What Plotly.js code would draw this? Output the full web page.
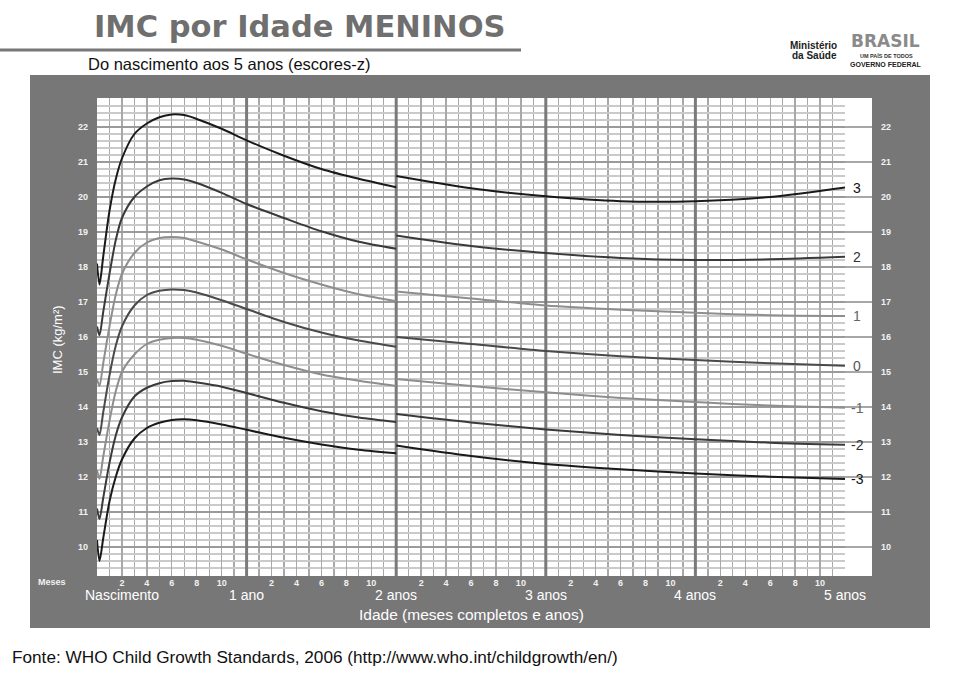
<!DOCTYPE html>
<html>
<head>
<meta charset="utf-8">
<script src="https://cdn.plot.ly/plotly-3.0.1.min.js"></script>
<style>html,body{margin:0;padding:0;background:#fff;}#chart{width:964px;height:674px;}</style>
</head>
<body>
<div id="chart"></div>
<script>
// ---- data (z-score curves of BMI-for-age, boys) ----
const zLabels = ['-3', '-2', '-1', '0', '1', '2', '3'];
const monthsA = [0, 0.2, 0.5, 1, 1.5, 2, 3, 4, 5, 6, 7, 8, 10, 12, 15, 18, 21, 24];
const m3A = [10.2, 9.6, 10.25, 11.3, 12.0, 12.5, 13.1, 13.4, 13.55, 13.63, 13.65, 13.62, 13.5, 13.35, 13.12, 12.93, 12.78, 12.68];
const m2A = [11.1, 10.8, 11.4, 12.4, 13.18, 13.7, 14.3, 14.55, 14.68, 14.74, 14.75, 14.7, 14.58, 14.4, 14.12, 13.88, 13.7, 13.57];
const m1A = [12.2, 11.95, 12.58, 13.6, 14.44, 15.0, 15.5, 15.8, 15.92, 15.97, 15.97, 15.92, 15.75, 15.52, 15.2, 14.93, 14.75, 14.6];
const z0A = [13.4, 13.2, 13.85, 14.9, 15.74, 16.3, 16.9, 17.2, 17.32, 17.36, 17.34, 17.27, 17.05, 16.8, 16.43, 16.13, 15.9, 15.72];
const p1A = [14.8, 14.6, 15.25, 16.3, 17.2, 17.8, 18.4, 18.7, 18.83, 18.86, 18.83, 18.73, 18.5, 18.22, 17.83, 17.5, 17.22, 17.02];
const p2A = [16.3, 16.05, 16.72, 17.8, 18.76, 19.4, 20.0, 20.3, 20.48, 20.53, 20.5, 20.4, 20.12, 19.8, 19.4, 19.02, 18.72, 18.52];
const p3A = [18.1, 17.5, 18.3, 19.6, 20.5, 21.1, 21.8, 22.1, 22.28, 22.36, 22.34, 22.23, 21.95, 21.62, 21.18, 20.8, 20.52, 20.28];

const monthsB = [24, 30, 36, 42, 48, 54, 60];
const m3B = [12.9, 12.6, 12.37, 12.22, 12.1, 12.01, 11.94];
const m2B = [13.8, 13.56, 13.36, 13.2, 13.08, 12.98, 12.92];
const m1B = [14.8, 14.6, 14.42, 14.26, 14.14, 14.04, 13.98];
const z0B = [16.0, 15.8, 15.6, 15.45, 15.34, 15.25, 15.18];
const p1B = [17.3, 17.1, 16.9, 16.78, 16.69, 16.62, 16.6];
const p2B = [18.9, 18.6, 18.4, 18.26, 18.2, 18.22, 18.29];
const p3B = [20.6, 20.25, 20.02, 19.88, 19.88, 20.0, 20.27];

const yTicks = [10, 11, 12, 13, 14, 15, 16, 17, 18, 19, 20, 21, 22];
const monthTickNums = [2, 4, 6, 8, 10];
const yearNums = [0, 1, 2, 3, 4];
const yearLabels = ['Nascimento', '1 ano', '2 anos', '3 anos', '4 anos', '5 anos'];
const yearLabelMonths = [2, 12, 24, 36, 48, 60];
const yearLines = [12, 24, 36, 48];

// ---- styling ----
const FONT = 'Liberation Sans, Arial, sans-serif';
const lineColors = ['#1a1a1a', '#3a3a3a', '#8e8e8e', '#4a4a4a', '#8e8e8e', '#3a3a3a', '#1a1a1a'];
const labelColors = ['#111', '#333', '#666', '#555', '#666', '#333', '#111'];
const segA = [m3A, m2A, m1A, z0A, p1A, p2A, p3A];
const segB = [m3B, m2B, m1B, z0B, p1B, p2B, p3B];

// pixel geometry helpers (plot area 97..845 x, 98..576 y)
const PL = 97, PR = 845, PT = 98, PB = 576;
const px = v => (v - PL) / (PR - PL);
const py = v => (PB - v) / (PB - PT);

const yRange = [10 - (PB - 547) / 35, 22 + (127 - PT) / 35];

const traces = [];
// dummy trace for right axis
traces.push({x: [30], y: [15], yaxis: 'y2', mode: 'markers', marker: {opacity: 0}, hoverinfo: 'skip', showlegend: false});
// year divider lines (drawn above grid, below curves)
const ylX = [], ylY = [];
yearLines.forEach(m => { ylX.push(m, m, null); ylY.push(yRange[0], yRange[1], null); });
traces.push({x: ylX, y: ylY, mode: 'lines', line: {color: '#7a7a7a', width: 3}, hoverinfo: 'skip', showlegend: false, cliponaxis: true});
zLabels.forEach((z, i) => {
  traces.push({x: monthsA, y: segA[i], mode: 'lines', line: {color: lineColors[i], width: 2, shape: 'spline', smoothing: 0.8}, hoverinfo: 'skip', showlegend: false});
  traces.push({x: monthsB, y: segB[i], mode: 'lines', line: {color: lineColors[i], width: 2, shape: 'spline', smoothing: 0.8}, hoverinfo: 'skip', showlegend: false});
});

const xTickVals = [], xTickText = [];
yearNums.forEach(yr => monthTickNums.forEach(m => { xTickVals.push(yr * 12 + m); xTickText.push(String(m)); }));

const shapes = [
  // gray frame
  {type: 'rect', xref: 'paper', yref: 'paper', x0: px(30), x1: px(930), y0: py(628), y1: py(75), fillcolor: '#777777', line: {width: 0}, layer: 'below'},
  // white plotting area + label strip
  {type: 'rect', xref: 'paper', yref: 'paper', x0: px(97), x1: px(872), y0: py(576), y1: py(98), fillcolor: '#ffffff', line: {width: 0}, layer: 'below'},
  // title underline
  {type: 'line', xref: 'paper', yref: 'paper', x0: px(0), x1: px(521), y0: py(50), y1: py(50), line: {color: '#777', width: 3}},
];
// integer lines across the right white strip
yTicks.forEach(v => shapes.push({type: 'line', xref: 'paper', yref: 'y', x0: 1, x1: px(872), y0: v, y1: v, line: {color: '#8a8a8a', width: 1.5}, layer: 'below'}));

const annotations = [
  {text: '<b>IMC por Idade MENINOS</b>', xref: 'paper', yref: 'paper', x: px(92), y: py(26), xanchor: 'left', yanchor: 'middle', showarrow: false, font: {family: 'DejaVu Sans, sans-serif', size: 30.5, color: '#6f6f6f'}},
  {text: 'Do nascimento aos 5 anos (escores-z)', xref: 'paper', yref: 'paper', x: px(86), y: py(64), xanchor: 'left', yanchor: 'middle', showarrow: false, font: {family: FONT, size: 16.5, color: '#111'}},
  {text: 'Fonte: WHO Child Growth Standards, 2006 (http://www.who.int/childgrowth/en/)', xref: 'paper', yref: 'paper', x: px(10), y: py(657), xanchor: 'left', yanchor: 'middle', showarrow: false, font: {family: FONT, size: 17.2, color: '#111'}},
  {text: '<b>Ministério</b>', xref: 'paper', yref: 'paper', x: px(838), y: py(45), xanchor: 'right', yanchor: 'middle', showarrow: false, borderpad: 0, font: {family: FONT, size: 10, color: '#222'}},
  {text: '<b>da Saúde</b>', xref: 'paper', yref: 'paper', x: px(838), y: py(55), xanchor: 'right', yanchor: 'middle', showarrow: false, borderpad: 0, font: {family: FONT, size: 10, color: '#222'}},
  {text: '<b>BRASIL</b>', xref: 'paper', yref: 'paper', x: px(885), y: py(41), xanchor: 'center', yanchor: 'middle', showarrow: false, borderpad: 0, font: {family: 'DejaVu Sans, sans-serif', size: 17, color: '#8a8a8a'}},
  {text: '<b>UM PAÍS DE TODOS</b>', xref: 'paper', yref: 'paper', x: px(886), y: py(55.5), xanchor: 'center', yanchor: 'middle', showarrow: false, borderpad: 0, font: {family: FONT, size: 5.5, color: '#333'}},
  {text: '<b>GOVERNO FEDERAL</b>', xref: 'paper', yref: 'paper', x: px(886), y: py(64), xanchor: 'center', yanchor: 'middle', showarrow: false, borderpad: 0, font: {family: FONT, size: 7, color: '#222'}},
  {text: 'IMC (kg/m²)', xref: 'paper', yref: 'paper', x: px(57), y: py(340), xanchor: 'center', yanchor: 'middle', textangle: -90, showarrow: false, font: {family: FONT, size: 13, color: '#fff'}},
  {text: 'Idade (meses completos e anos)', xref: 'paper', yref: 'paper', x: px(471), y: py(614), xanchor: 'center', yanchor: 'middle', showarrow: false, font: {family: FONT, size: 15.5, color: '#fff'}},
  {text: '<b>Meses</b>', xref: 'paper', yref: 'paper', x: px(52), y: py(582), xanchor: 'center', yanchor: 'middle', showarrow: false, font: {family: FONT, size: 9, color: '#f2f2f2'}},
];
yearLabels.forEach((t, i) => annotations.push({text: t, xref: 'x', yref: 'paper', x: yearLabelMonths[i], y: py(595), xanchor: 'center', yanchor: 'middle', showarrow: false, font: {family: FONT, size: 14, color: '#fff'}}));
zLabels.forEach((z, i) => {
  const ys = segB[i];
  annotations.push({text: z, xref: 'paper', yref: 'y', x: px(857), y: ys[ys.length - 1], xanchor: 'center', yanchor: 'middle', showarrow: false, font: {family: FONT, size: 14, color: labelColors[i]}});
});

const layout = {
  width: 964, height: 674,
  margin: {l: PL, r: 964 - PR, t: PT, b: 674 - PB, pad: 0},
  paper_bgcolor: '#ffffff', plot_bgcolor: 'rgba(0,0,0,0)',
  showlegend: false,
  font: {family: FONT},
  xaxis: {
    range: [0, 60], tickmode: 'array', tickvals: xTickVals, ticktext: xTickText,
    ticks: '', ticklabelstandoff: 0,
    tickfont: {family: FONT, size: 9, color: '#f2f2f2', weight: 'bold'},
    showgrid: true, gridcolor: '#a8a8a8', gridwidth: 1.3,
    minor: {tickmode: 'linear', tick0: 0, dtick: 1, showgrid: true, gridcolor: '#a8a8a8', gridwidth: 1.3},
    zeroline: false, showline: false, fixedrange: true
  },
  yaxis: {
    range: yRange, tickmode: 'array', tickvals: yTicks, ticktext: yTicks.map(String),
    ticks: '', ticklabelstandoff: 8,
    tickfont: {family: FONT, size: 9, color: '#f2f2f2', weight: 'bold'},
    showgrid: true, gridcolor: '#9a9a9a', gridwidth: 1.6,
    minor: {tickmode: 'linear', tick0: 0, dtick: 0.2, showgrid: true, gridcolor: '#cacaca', gridwidth: 1.6},
    zeroline: false, showline: false, fixedrange: true
  },
  yaxis2: {
    range: yRange, overlaying: 'y', side: 'right', tickmode: 'array', tickvals: yTicks, ticktext: yTicks.map(String),
    ticks: '', ticklabelstandoff: 35, showgrid: false, zeroline: false, showline: false,
    tickfont: {family: FONT, size: 9, color: '#f2f2f2', weight: 'bold'}, fixedrange: true
  },
  shapes: shapes,
  annotations: annotations
};

Plotly.newPlot('chart', traces, layout, {staticPlot: true, displayModeBar: false});
</script>
</body>
</html>
